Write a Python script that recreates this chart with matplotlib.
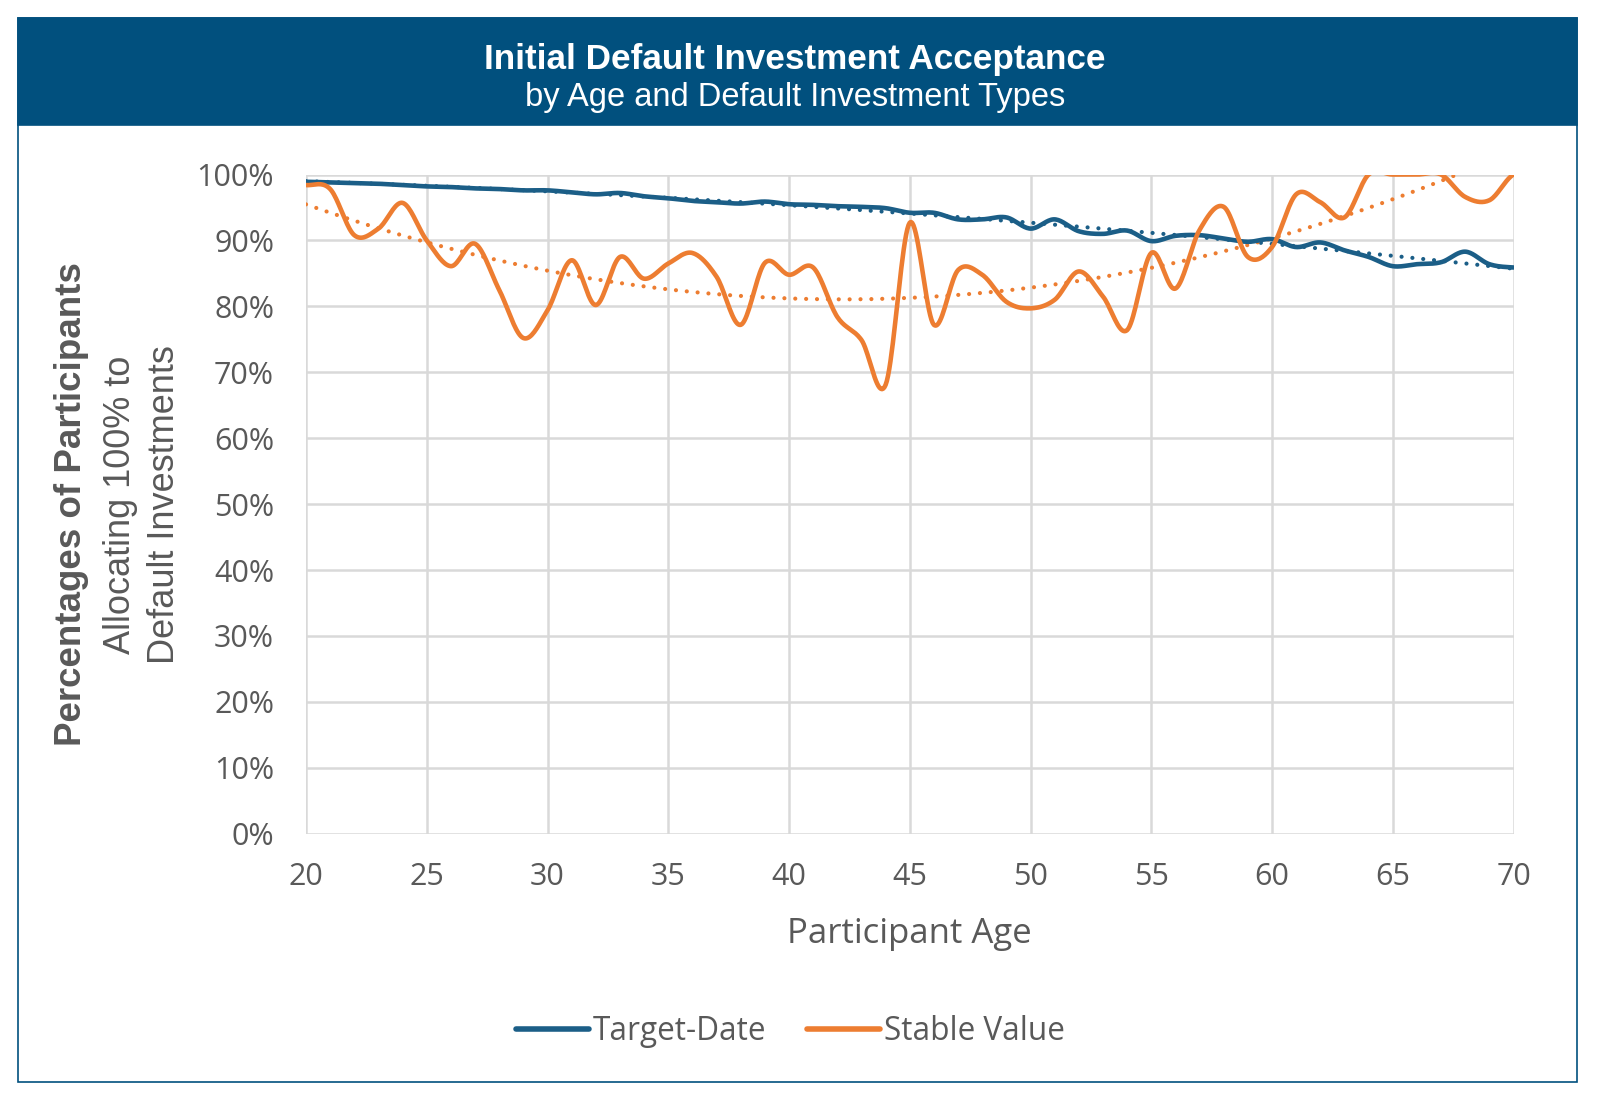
import numpy as np
import matplotlib.pyplot as plt
from matplotlib.patches import Rectangle
from matplotlib.ticker import FuncFormatter, MultipleLocator

# data (percent of participants by age)
ages = list(range(20, 71))
target_date = [98.9, 98.8, 98.7, 98.6, 98.4, 98.2, 98.1, 97.9, 97.8, 97.6,
               97.6, 97.3, 97.0, 97.2, 96.7, 96.4, 96.0, 95.8, 95.6, 95.9,
               95.5, 95.4, 95.2, 95.1, 94.9, 94.2, 94.2, 93.2, 93.2, 93.5,
               91.8, 93.2, 91.4, 91.0, 91.5, 89.9, 90.7, 90.8, 90.3, 89.8,
               90.2, 89.0, 89.7, 88.5, 87.5, 86.1, 86.4, 86.7, 88.3, 86.4,
               85.9]
stable_value = [98.4, 97.8, 90.8, 91.8, 95.7, 90.0, 86.1, 89.5, 82.5, 75.2,
                79.4, 87.0, 80.2, 87.5, 84.2, 86.5, 88.1, 84.5, 77.2, 86.6,
                84.8, 85.9, 78.4, 74.9, 68.1, 92.7, 77.2, 85.5, 84.8, 80.7,
                79.7, 81.0, 85.3, 81.5, 76.4, 88.1, 82.7, 91.6, 95.1, 87.5,
                89.0, 97.0, 95.8, 93.5, 100.0, 100.0, 100.0, 100.0, 96.6, 96.1,
                100.0]
series_names = ['Target-Date', 'Stable Value']
series_colors = ['#1B5E87', '#ED7D31']

HEADER = '#01507E'
GREY = '#595959'
GRID = '#D9D9D9'
TICK_FONT = ['Open Sans', 'DejaVu Sans']
NARROW = ['Liberation Sans Narrow', 'Liberation Sans', 'DejaVu Sans']


def smooth(x, y, n=20):
    # catmull-rom through every point, like excel's smoothed line
    x = np.asarray(x, float)
    y = np.asarray(y, float)
    px = np.concatenate([[x[0]], x, [x[-1]]])
    py = np.concatenate([[y[0]], y, [y[-1]]])
    xs, ys = [], []
    t = np.linspace(0, 1, n, endpoint=False)
    for i in range(1, len(px) - 2):
        p0, p1, p2, p3 = py[i - 1], py[i], py[i + 1], py[i + 2]
        ys.append(0.5 * ((2 * p1) + (-p0 + p2) * t + (2 * p0 - 5 * p1 + 4 * p2 - p3) * t ** 2
                         + (-p0 + 3 * p1 - 3 * p2 + p3) * t ** 3))
        xs.append(px[i] + (px[i + 1] - px[i]) * t)
    xs.append([x[-1]])
    ys.append([y[-1]])
    return np.concatenate(xs), np.concatenate(ys)


fig = plt.figure(figsize=(16, 11.04), dpi=100)

# outer frame and header band (behind the axes)
fig.patches.append(Rectangle((0.01125, 0.0199), 0.9745, 0.9638, transform=fig.transFigure,
                             facecolor='white', edgecolor=HEADER, linewidth=1.2, zorder=-2))
fig.patches.append(Rectangle((0.01125, 0.8872), 0.9745, 0.0964, transform=fig.transFigure,
                             facecolor=HEADER, edgecolor=HEADER, linewidth=1.2, zorder=-1))
fig.text(0.497, 0.946, 'Initial Default Investment Acceptance', ha='center', va='center',
         color='white', fontsize=25.3, fontweight='bold', family=NARROW)
fig.text(0.497, 0.912, 'by Age and Default Investment Types', ha='center', va='center',
         color='white', fontsize=23.5, family=NARROW)

ax = fig.add_axes([0.19125, 0.2448, 0.7547, 0.5971])
ax.set_zorder(2)
ax.patch.set_alpha(0)

for vals, name, col in zip([target_date, stable_value], series_names, series_colors):
    sx, sy = smooth(ages, np.array(vals) / 100)
    ax.plot(sx, sy, color=col, lw=3.3, label=name, solid_capstyle='round', zorder=3)
    coef = np.polyfit(ages, np.array(vals) / 100, 2)
    tx = np.linspace(ages[0], ages[-1], 300)
    ax.plot(tx, np.polyval(coef, tx), color=col, lw=3, linestyle=(0, (0.01, 2.6)),
            dash_capstyle='round', zorder=2)

ax.set_xlim(20, 70)
ax.set_ylim(0, 1.0)
ax.xaxis.set_major_locator(MultipleLocator(5))
ax.yaxis.set_major_locator(MultipleLocator(0.1))
ax.yaxis.set_major_formatter(FuncFormatter(lambda v, p: f'{v * 100:.0f}%'))
ax.grid(True, color=GRID, lw=1.8)
ax.set_axisbelow(True)
for s in ax.spines.values():
    s.set_visible(False)
ax.tick_params(length=0, colors=GREY, labelsize=22)
ax.tick_params(axis='y', pad=23)
ax.tick_params(axis='x', pad=20)
for lab in ax.get_xticklabels() + ax.get_yticklabels():
    lab.set_family(TICK_FONT)

ax.set_xlabel('Participant Age', fontsize=25, color=GREY, family=TICK_FONT, labelpad=18)

fig.text(0.045, 0.543, 'Percentages of Participants', rotation=90, ha='center', va='center',
         fontsize=26.5, fontweight='bold', color=GREY, family=NARROW)
fig.text(0.075, 0.543, 'Allocating 100% to', rotation=90, ha='center', va='center',
         fontsize=26, color=GREY, family=NARROW)
fig.text(0.103, 0.543, 'Default Investments', rotation=90, ha='center', va='center',
         fontsize=26, color=GREY, family=NARROW)

leg = fig.legend(loc='center', bbox_to_anchor=(0.494, 0.066), ncol=2, frameon=False,
                 handlelength=2.3, handletextpad=0.12, columnspacing=1.3,
                 prop={'family': TICK_FONT, 'size': 22.7})
for t in leg.get_texts():
    t.set_color(GREY)
for h in leg.get_lines():
    h.set_linewidth(4)

fig.savefig('out.png', dpi=100)
